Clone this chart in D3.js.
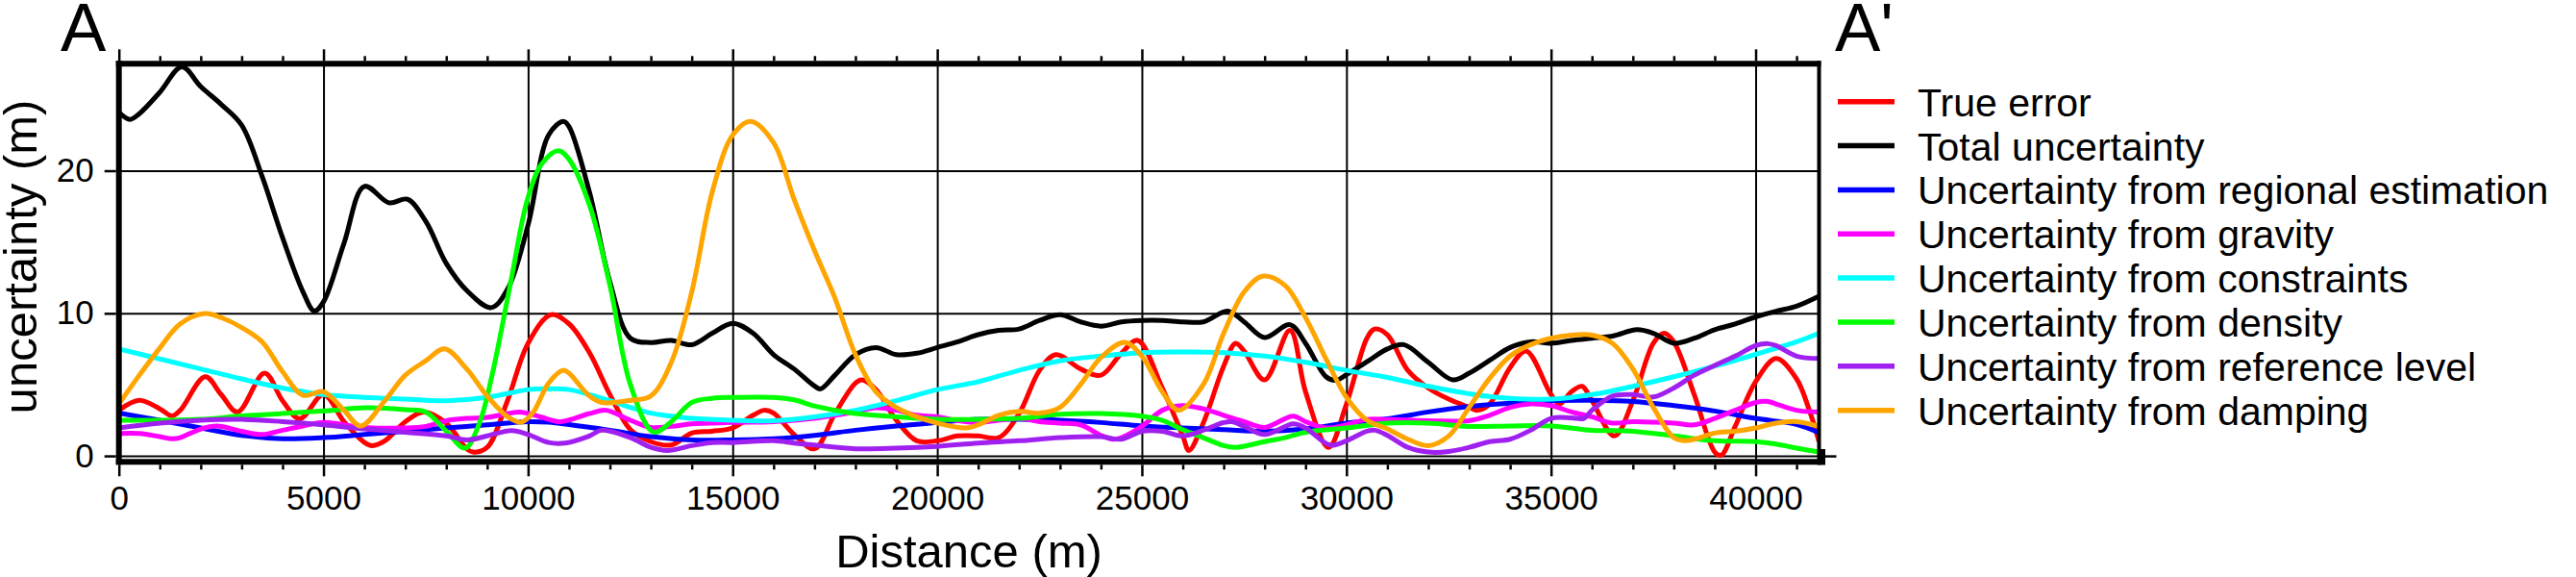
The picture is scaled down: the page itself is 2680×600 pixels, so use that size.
<!DOCTYPE html>
<html>
<head>
<meta charset="utf-8">
<script src="https://cdn.jsdelivr.net/npm/d3@7"></script>
<style>
body { margin: 0; background: #fff; }
text { font-family: "Liberation Sans", Arial, Helvetica, sans-serif; fill: #000; }
</style>
</head>
<body>
<div id="chart"></div>
<script>
// values, [distance (m), uncertainty (m)]
const trueError = [[0,3.2],[500,3.9],[1000,3.3],[1300,2.8],[1500,3.2],[2110,5.55],[2500,4.3],[2900,3.08],[3560,5.8],[4000,3.87],[4420,2.6],[5000,4.3],[5500,2.4],[6000,0.94],[6190,0.72],[6500,1.06],[7000,2.4],[7450,3.08],[8000,2.3],[8500,0.5],[8650,0.27],[9000,0.6],[9500,3.9],[10000,7.9],[10560,9.9],[11000,9.26],[11500,7.24],[12000,4.3],[12500,1.84],[13000,1.0],[13500,0.76],[14000,1.6],[14500,1.73],[15000,1.96],[15500,2.85],[15770,3.2],[16000,3.0],[16500,1.5],[17000,0.5],[17500,2.97],[18000,5.1],[18160,5.33],[18500,4.65],[19000,2.5],[19500,1.06],[20000,1.06],[20500,1.4],[21000,1.4],[21500,1.28],[22000,2.97],[22500,6.0],[22900,7.1],[23500,6.1],[24000,5.66],[24500,7.2],[24900,8.1],[25500,4.76],[26000,1.4],[26150,0.38],[26500,2.3],[27000,6.3],[27290,7.9],[27500,7.35],[28000,5.33],[28620,8.8],[29000,4.5],[29560,0.6],[30000,3.64],[30500,8.25],[30690,8.9],[31000,8.5],[31500,6.0],[32000,4.76],[32500,3.98],[33000,3.4],[33200,3.2],[33500,3.64],[34000,6.2],[34390,7.35],[35000,4.3],[35210,3.64],[35500,4.5],[35760,4.88],[36000,3.87],[36550,1.4],[37000,3.87],[37500,7.9],[37760,8.6],[38000,8.0],[38500,4.3],[39000,0.27],[39160,0.05],[39500,2.07],[40000,5.2],[40500,6.83],[41000,5.4],[41300,3.3],[41550,1.0]];

const totalUncertainty = [[0,24.1],[270,23.6],[500,24.0],[1000,25.5],[1540,27.28],[2000,25.9],[2500,24.65],[3000,23.2],[3500,19.6],[4000,15.3],[4500,11.5],[4775,10.16],[5000,10.8],[5500,14.9],[6000,18.9],[6600,17.75],[7050,18.0],[7500,16.45],[8000,13.5],[8500,11.6],[9100,10.4],[9500,11.7],[10000,16.2],[10500,22.5],[10860,23.46],[11000,23.1],[11500,18.5],[12000,12.2],[12500,8.25],[13000,7.95],[13500,8.1],[14000,7.8],[14500,8.6],[15000,9.3],[15500,8.6],[16000,7.1],[16500,6.1],[17000,4.9],[17150,4.7],[17500,5.66],[18000,7.1],[18500,7.6],[19000,7.1],[19500,7.2],[20000,7.6],[20500,8.0],[21000,8.5],[21500,8.8],[22000,8.9],[22500,9.5],[23000,9.9],[23500,9.4],[24000,9.1],[24500,9.4],[25000,9.5],[25500,9.5],[26000,9.4],[26500,9.4],[27100,10.15],[27500,9.4],[28000,8.3],[28620,9.2],[29000,7.9],[29500,5.55],[29750,5.3],[30000,5.7],[30500,6.6],[31000,7.5],[31400,7.8],[32000,6.56],[32600,5.33],[33000,5.8],[33500,6.7],[34000,7.6],[34500,8.0],[35000,7.9],[35500,8.1],[36000,8.25],[36500,8.4],[37100,8.85],[37500,8.6],[38000,7.9],[38500,8.25],[39000,8.85],[39500,9.25],[40000,9.75],[40500,10.15],[41000,10.5],[41550,11.2]];

const regional = [[0,3.0],[1000,2.5],[2000,1.96],[3000,1.44],[4000,1.2],[5000,1.28],[6000,1.5],[7000,1.73],[8000,1.96],[9000,2.18],[10000,2.4],[10500,2.36],[11000,2.2],[12000,1.8],[13000,1.35],[14000,1.12],[15000,1.12],[16000,1.2],[17000,1.44],[18000,1.8],[19000,2.1],[20000,2.34],[21000,2.56],[22000,2.56],[23000,2.5],[24000,2.34],[25000,2.1],[26000,1.96],[27000,1.84],[28000,1.73],[29000,1.89],[30000,2.3],[31000,2.6],[32000,3.08],[33000,3.46],[34000,3.69],[35000,3.87],[36000,3.9],[37000,3.82],[38000,3.53],[39000,3.15],[40000,2.63],[41000,2.2],[41550,1.62]];

const gravity = [[0,1.57],[500,1.57],[1000,1.35],[1300,1.2],[1500,1.28],[2000,1.89],[2400,2.1],[3000,1.73],[3500,1.5],[4000,1.8],[4500,2.1],[5000,2.34],[6000,2.0],[7000,1.96],[7500,2.07],[8000,2.47],[8500,2.63],[9000,2.7],[9500,2.97],[9800,3.08],[10300,2.74],[10800,2.4],[11500,2.97],[11900,3.2],[12500,2.5],[13000,2.0],[13500,2.07],[14000,2.25],[15000,2.34],[16000,2.4],[17000,2.63],[18000,3.08],[18500,3.37],[19000,3.2],[19500,2.85],[20000,2.74],[20500,2.47],[21000,2.34],[21500,2.5],[22000,2.63],[22500,2.4],[23000,2.3],[23500,2.18],[24000,1.44],[24300,1.17],[24500,1.28],[25000,2.07],[25500,3.2],[26000,3.53],[26500,3.3],[27000,2.85],[27500,2.4],[28000,2.0],[28700,2.79],[29000,2.4],[29500,1.96],[30000,2.18],[30500,2.56],[31000,2.55],[32000,2.47],[33000,2.47],[33500,2.85],[34000,3.4],[34500,3.64],[35000,3.53],[35500,3.08],[36000,2.74],[36500,2.3],[37000,2.4],[38000,2.3],[38500,2.18],[39000,2.63],[39500,3.2],[40000,3.75],[40300,3.82],[40500,3.64],[41000,3.2],[41550,3.08]];

const constraints = [[0,7.5],[1000,6.8],[2000,6.1],[3000,5.4],[4000,4.76],[5000,4.3],[6000,4.1],[7000,3.98],[8000,3.87],[9000,4.1],[10000,4.65],[10500,4.7],[11000,4.65],[11500,4.3],[12000,3.87],[12500,3.4],[13000,3.0],[13500,2.79],[14000,2.63],[15000,2.5],[16000,2.47],[17000,2.74],[18000,3.2],[19000,3.87],[20000,4.65],[21000,5.2],[22000,6.0],[23000,6.67],[24000,7.0],[25000,7.24],[26000,7.28],[27000,7.24],[28000,7.0],[29000,6.56],[30000,6.0],[31000,5.5],[32000,4.88],[33000,4.36],[34000,4.04],[35000,3.98],[36000,4.3],[37000,4.88],[38000,5.55],[39000,6.3],[40000,7.12],[41000,8.0],[41550,8.6]];

const density = [[0,2.5],[1000,2.5],[2000,2.56],[3000,2.8],[4000,2.97],[5000,3.15],[6000,3.37],[6500,3.35],[7000,3.24],[7500,3.08],[8000,1.73],[8460,0.54],[8810,2.3],[9120,5.66],[9590,12.4],[9985,18.0],[10340,20.5],[10740,21.4],[11000,20.8],[11500,17.6],[12000,11.96],[12500,5.0],[13070,1.66],[13500,2.4],[14000,3.75],[14500,4.04],[15000,4.1],[16000,4.1],[16500,3.93],[17000,3.5],[17500,3.2],[18000,2.97],[19000,2.74],[20000,2.56],[21000,2.56],[22000,2.63],[23000,2.92],[24000,2.97],[25000,2.79],[25500,2.5],[26000,1.84],[26500,1.28],[27000,0.72],[27300,0.6],[28000,1.0],[28500,1.28],[29000,1.66],[30000,1.96],[31000,2.3],[32000,2.3],[33000,2.07],[34000,2.1],[35000,2.1],[36000,1.8],[37000,1.73],[38000,1.4],[39000,1.06],[40000,1.0],[40500,0.83],[41000,0.54],[41550,0.27]];

const referenceLevel = [[0,1.96],[1000,2.3],[2000,2.5],[3000,2.56],[4000,2.4],[5000,2.18],[6000,1.89],[7000,1.66],[8000,1.4],[8500,1.12],[9000,1.4],[9600,1.78],[10000,1.5],[10500,0.94],[10900,0.9],[11500,1.4],[11800,1.8],[12500,1.28],[13000,0.6],[13400,0.38],[14000,0.72],[14500,0.94],[15000,0.94],[16000,1.06],[16500,0.9],[17000,0.76],[18000,0.5],[19000,0.54],[20000,0.67],[21000,0.9],[22000,1.06],[23000,1.28],[24000,1.35],[24500,1.17],[25000,1.73],[25500,1.73],[26000,1.4],[26500,1.8],[27000,2.34],[27200,2.4],[27500,2.07],[28000,1.5],[28700,2.25],[29000,1.96],[29600,0.76],[30000,1.06],[30500,1.73],[30700,1.8],[31000,1.44],[31500,0.6],[32000,0.27],[32500,0.31],[33000,0.6],[33500,1.0],[34000,1.17],[34500,1.8],[35000,2.63],[35500,2.67],[35800,2.63],[36000,3.2],[36500,4.2],[37000,4.3],[37500,4.13],[38000,4.76],[38500,5.66],[39000,6.34],[39500,7.0],[40000,7.73],[40300,7.87],[40500,7.73],[41000,7.0],[41550,6.83]];

const damping = [[0,3.64],[500,5.66],[1000,7.57],[1500,9.26],[2100,9.98],[2500,9.7],[3000,9.0],[3500,8.0],[4000,5.9],[4500,4.25],[5000,4.5],[5500,3.2],[5910,2.1],[6500,3.87],[7000,5.66],[7500,6.67],[7960,7.5],[8500,6.1],[9000,4.2],[9500,2.74],[9840,2.36],[10130,3.08],[10500,5.1],[10860,6.0],[11000,5.8],[11500,4.2],[11800,3.75],[12500,3.9],[13000,4.2],[13500,6.56],[14000,11.5],[14500,18.5],[15000,22.5],[15440,23.46],[16000,21.96],[16500,18.0],[17000,14.4],[17500,11.06],[18000,7.1],[18500,4.5],[19000,3.4],[19500,2.74],[20000,2.3],[20700,1.96],[21000,2.18],[21500,2.85],[22000,3.12],[22500,3.0],[23000,3.4],[23500,5.0],[24000,6.9],[24580,7.96],[25000,7.0],[25500,4.5],[25900,3.2],[26500,5.0],[27000,8.6],[27500,11.5],[27950,12.6],[28500,11.95],[29000,9.7],[29500,6.8],[30000,4.1],[30500,2.5],[31000,1.9],[31500,1.17],[32000,0.72],[32500,1.4],[33000,3.4],[33500,5.44],[34000,7.0],[34500,7.8],[35000,8.25],[35500,8.47],[36000,8.47],[36500,7.9],[37000,6.1],[37500,3.4],[38000,1.28],[38270,1.06],[38500,1.17],[39000,1.6],[39500,1.73],[40000,1.96],[40500,2.3],[41000,2.4],[41550,2.07]];

const seriesNames = ["True error", "Total uncertainty", "Uncertainty from regional estimation", "Uncertainty from gravity", "Uncertainty from constraints", "Uncertainty from density", "Uncertainty from reference level", "Uncertainty from damping"];
const seriesColors = ["#ff0000", "#000000", "#0000ff", "#ff00ff", "#00ffff", "#00ff00", "#a020f0", "#ffa500"];
const seriesData = [trueError, totalUncertainty, regional, gravity, constraints, density, referenceLevel, damping];

const xMajor = [0, 5000, 10000, 15000, 20000, 25000, 30000, 35000, 40000];
const yMajor = [0, 10, 20];
const xMax = 41550;
const yRange = [-0.42, 27.5];

// layout
const width = 2680, height = 600;
const plotLeft = 123.7, plotRight = 1892.5, plotTop = 66.3, plotBottom = 480.3;
const frameWidth = 6;

const x = d3.scaleLinear().domain([0, xMax]).range([plotLeft, plotRight]);
const y = d3.scaleLinear().domain(yRange).range([plotBottom, plotTop]);
const xMinor = d3.range(0, xMax, 1000).filter(d => d % 5000 != 0);

var svg = d3.select("#chart")
    .append("svg")
    .attr("width", width)
    .attr("height", height);

svg.append("rect")
    .attr("width", width)
    .attr("height", height)
    .style("fill", "#fff");

function styleAxis(g) {
    g.select(".domain").remove();
    g.selectAll(".tick line").attr("stroke", "#000").attr("stroke-width", 2.5);
    g.selectAll("text").attr("font-size", 35).attr("font-family", "Liberation Sans, Arial, sans-serif");
}

function styleGrid(g) {
    g.select(".domain").remove();
    g.selectAll(".tick line").attr("stroke", "#000").attr("stroke-width", 2);
}

// grid
svg.append("g")
    .attr("transform", "translate(0," + plotBottom + ")")
    .call(d3.axisBottom(x).tickValues(xMajor.slice(1)).tickSize(-(plotBottom - plotTop)).tickFormat(""))
    .call(styleGrid);

svg.append("g")
    .attr("transform", "translate(" + plotLeft + ",0)")
    .call(d3.axisLeft(y).tickValues(yMajor).tickSize(-(plotRight - plotLeft)).tickFormat(""))
    .call(styleGrid);

// curves
svg.append("clipPath")
    .attr("id", "plot-clip")
    .append("rect")
    .attr("x", plotLeft)
    .attr("y", plotTop)
    .attr("width", plotRight - plotLeft)
    .attr("height", plotBottom - plotTop);

const line = d3.line()
    .x(d => x(d[0]))
    .y(d => y(d[1]))
    .curve(d3.curveCatmullRom.alpha(0.5));

svg.append("g")
    .attr("clip-path", "url(#plot-clip)")
    .selectAll("path")
    .data(seriesData)
    .enter()
    .append("path")
    .attr("d", line)
    .style("fill", "none")
    .style("stroke", (d, i) => seriesColors[i])
    .style("stroke-width", 5)
    .style("stroke-linejoin", "round");

// axes and ticks
const outerBottom = plotBottom + frameWidth / 2;
const outerTop = plotTop - frameWidth / 2;
const outerLeft = plotLeft - frameWidth / 2;

svg.append("g")
    .attr("transform", "translate(0," + outerBottom + ")")
    .call(d3.axisBottom(x).tickValues(xMajor).tickSize(12).tickPadding(10).tickFormat(d3.format("d")))
    .call(styleAxis);

svg.append("g")
    .attr("transform", "translate(0," + outerBottom + ")")
    .call(d3.axisBottom(x).tickValues(xMinor).tickSize(5).tickFormat(""))
    .call(styleAxis);

svg.append("g")
    .attr("transform", "translate(0," + outerTop + ")")
    .call(d3.axisTop(x).tickValues(xMajor).tickSize(12).tickFormat(""))
    .call(styleAxis);

svg.append("g")
    .attr("transform", "translate(0," + outerTop + ")")
    .call(d3.axisTop(x).tickValues(xMinor).tickSize(5).tickFormat(""))
    .call(styleAxis);

svg.append("g")
    .attr("transform", "translate(" + outerLeft + ",0)")
    .call(d3.axisLeft(y).tickValues(yMajor).tickSize(12).tickPadding(11).tickFormat(d3.format("d")))
    .call(styleAxis);

// right side only carries the zero tick
svg.append("g")
    .attr("transform", "translate(" + (plotRight + 2) + ",0)")
    .call(d3.axisRight(y).tickValues([0]).tickSize(16).tickFormat(""))
    .call(styleAxis);

// frame
svg.append("line")
    .attr("x1", outerLeft).attr("x2", plotRight + 2)
    .attr("y1", plotTop).attr("y2", plotTop)
    .style("stroke", "#000").style("stroke-width", frameWidth);
svg.append("line")
    .attr("x1", outerLeft).attr("x2", 1899)
    .attr("y1", plotBottom).attr("y2", plotBottom)
    .style("stroke", "#000").style("stroke-width", frameWidth);
svg.append("line")
    .attr("x1", plotLeft).attr("x2", plotLeft)
    .attr("y1", outerTop).attr("y2", outerBottom)
    .style("stroke", "#000").style("stroke-width", frameWidth);
svg.append("line")
    .attr("x1", plotRight).attr("x2", plotRight)
    .attr("y1", outerTop).attr("y2", outerBottom)
    .style("stroke", "#000").style("stroke-width", 4);
svg.append("rect")
    .attr("x", plotRight - 1).attr("y", 467)
    .attr("width", 1899 - plotRight + 1).attr("height", outerBottom - 467)
    .style("fill", "#000");

// labels
svg.append("text")
    .attr("x", (plotLeft + plotRight) / 2)
    .attr("y", 590)
    .attr("text-anchor", "middle")
    .attr("font-size", 49)
    .text("Distance (m)");

svg.append("text")
    .attr("transform", "translate(38,267) rotate(-90)")
    .attr("text-anchor", "middle")
    .attr("font-size", 49)
    .text("uncertainty (m)");

svg.append("text")
    .attr("x", 63)
    .attr("y", 53)
    .attr("font-size", 71)
    .text("A");

svg.append("text")
    .attr("x", 1909)
    .attr("y", 53)
    .attr("font-size", 71)
    .text("A'");

// legend
var legend = svg.append("g")
    .selectAll("g")
    .data(seriesNames)
    .enter()
    .append("g")
    .attr("transform", (d, i) => "translate(0," + (105.7 + i * 45.85) + ")");

legend.append("line")
    .attr("x1", 1912)
    .attr("x2", 1971)
    .style("stroke", (d, i) => seriesColors[i])
    .style("stroke-width", 5.5);

legend.append("text")
    .attr("x", 1995)
    .attr("y", 15)
    .attr("font-size", 41)
    .text(d => d);
</script>
</body>
</html>
